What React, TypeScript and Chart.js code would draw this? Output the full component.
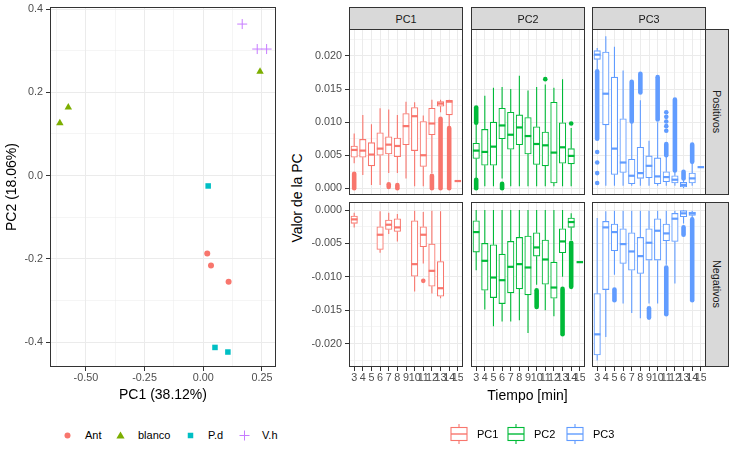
import { useEffect, useRef } from "react";
import { Chart, registerables } from "chart.js";

Chart.register(...registerables);

const FONT = "'Liberation Sans', Arial, sans-serif";
Chart.defaults.font.family = FONT;
Chart.defaults.font.size = 10.8;
Chart.defaults.color = "#4D4D4D";

// ---------- PCA scores (left plot) ----------
const antScores = [[0.017, -0.187], [0.033, -0.216], [0.108, -0.255]];
const blancoScores = [[-0.611, 0.126], [-0.575, 0.164], [0.242, 0.25]];
const pdScores = [[0.021, -0.025], [0.05, -0.413], [0.105, -0.424]];
const vhScores = [[0.166, 0.364], [0.23, 0.304], [0.27, 0.304]];

const pc1Major = [-0.5, -0.25, 0, 0.25];
const pc1Minor = [-0.625, -0.375, -0.125, 0.125];
const pc2Major = [-0.4, -0.2, 0, 0.2, 0.4];
const pc2Minor = [-0.3, -0.1, 0.1, 0.3];

// ---------- loadings per time (right plot) ----------
const times = [3, 4, 5, 6, 7, 8, 9, 10, 11, 12, 13, 14, 15];
const timeLabels = ["3", "4", "5", "6", "7", "8", "9", "10", "11", "12", "13", "14", "15"];

type Box = number[] | null; // [lower whisker, q1, median, q3, upper whisker]
type Outlier = number[]; // [time, from, to]

const pc1Pos: Box[] = [
  [0.0038, 0.0047, 0.0058, 0.0064, 0.0083],
  [0.002, 0.0047, 0.0057, 0.0074, 0.0111],
  [0.0005, 0.0034, 0.0051, 0.0069, 0.0097],
  [0.0005, 0.005, 0.006, 0.0084, 0.0121],
  [0.0023, 0.0052, 0.0066, 0.0078, 0.0119],
  [0.0023, 0.0048, 0.0064, 0.0076, 0.0111],
  [0.0015, 0.0066, 0.0094, 0.0113, 0.0131],
  [0.0003, 0.0057, 0.0109, 0.0122, 0.013],
  [0.0003, 0.0033, 0.005, 0.0101, 0.011],
  [0.0023, 0.0081, 0.0098, 0.0121, 0.0134],
  [0.0115, 0.0124, 0.0128, 0.0131, 0.0134],
  [0.0093, 0.0111, 0.0131, 0.0133, 0.0134],
  [0.0011, 0.0011, 0.0011, 0.0011, 0.0011],
];
const pc1PosOut: Outlier[] = [
  [3, 0.0, 0.0022], [7, 0.0002, 0.0006], [8, 0.0, 0.0005],
  [12, 0.0, 0.0019], [13, 0.0, 0.0105], [14, 0.0, 0.0091],
];
const pc1Neg: Box[] = [
  [-0.0026, -0.002, -0.0014, -0.0009, -0.0004],
  null,
  null,
  [-0.0064, -0.0059, -0.0037, -0.0025, -0.0002],
  [-0.0036, -0.0029, -0.0022, -0.0015, -0.0004],
  [-0.0047, -0.0032, -0.0026, -0.0013, -0.0006],
  null,
  [-0.0122, -0.0099, -0.0081, -0.0016, -0.0001],
  [-0.008, -0.0055, -0.0037, -0.0025, -0.0003],
  [-0.0125, -0.0114, -0.0091, -0.0051, -0.0001],
  [-0.0132, -0.0129, -0.0117, -0.0077, -0.0002],
  null,
  null,
];
const pc1NegOut: Outlier[] = [[11, -0.0106, -0.0106]];

const pc2Pos: Box[] = [
  [0.0015, 0.0045, 0.0057, 0.0068, 0.0097],
  [0.0003, 0.0035, 0.0055, 0.0089, 0.014],
  [0.0003, 0.0035, 0.0063, 0.01, 0.0152],
  [0.0015, 0.0075, 0.0095, 0.0121, 0.0153],
  [0.0003, 0.0059, 0.0081, 0.0115, 0.015],
  [0.0003, 0.0066, 0.0092, 0.0111, 0.017],
  [0.0003, 0.0052, 0.0079, 0.0107, 0.0148],
  [0.0003, 0.0036, 0.0067, 0.0093, 0.0153],
  [0.0003, 0.0034, 0.0065, 0.0085, 0.0157],
  [0.0003, 0.0008, 0.0054, 0.013, 0.0152],
  [0.0003, 0.0038, 0.0062, 0.0099, 0.0165],
  [0.0003, 0.0037, 0.0049, 0.006, 0.0091],
  null,
];
const pc2PosOut: Outlier[] = [
  [3, 0.0099, 0.0122], [3, 0.0, 0.0013], [6, 0.0, 0.0007],
  [11, 0.0165, 0.0165], [14, 0.0098, 0.0098],
];
const pc2Neg: Box[] = [
  [-0.009, -0.0063, -0.0033, -0.0016, 0.0],
  [-0.0149, -0.012, -0.0076, -0.005, 0.0],
  [-0.0174, -0.0131, -0.0101, -0.0052, 0.0],
  [-0.0167, -0.014, -0.0105, -0.0066, 0.0],
  [-0.0167, -0.0124, -0.0085, -0.0047, 0.0],
  [-0.0165, -0.0118, -0.0081, -0.0041, 0.0],
  [-0.0184, -0.0127, -0.0086, -0.0039, 0.0],
  [-0.0112, -0.0069, -0.0056, -0.0034, 0.0],
  [-0.015, -0.0111, -0.0074, -0.0045, 0.0],
  [-0.0159, -0.0132, -0.0116, -0.0078, 0.0],
  [-0.01, -0.0064, -0.0047, -0.0028, 0.0],
  [-0.0045, -0.0026, -0.0018, -0.0012, -0.0005],
  [-0.0078, -0.0078, -0.0078, -0.0078, -0.0078],
];
const pc2NegOut: Outlier[] = [
  [10, -0.0145, -0.012], [13, -0.0186, -0.0118], [14, -0.0115, -0.0049],
];

const pc3Pos: Box[] = [
  [0.018, 0.0195, 0.0202, 0.0208, 0.0212],
  [0.0004, 0.0096, 0.0143, 0.0206, 0.023],
  [0.0004, 0.0021, 0.006, 0.0168, 0.0214],
  [0.0004, 0.0024, 0.0039, 0.0105, 0.0178],
  [0.0004, 0.0007, 0.0019, 0.0044, 0.0099],
  [0.0004, 0.0015, 0.0023, 0.0062, 0.0133],
  [0.0004, 0.0016, 0.0034, 0.0049, 0.0072],
  [0.0004, 0.0007, 0.0018, 0.0046, 0.01],
  [0.0004, 0.001, 0.0017, 0.0025, 0.0048],
  [0.0004, 0.0008, 0.0013, 0.0019, 0.0026],
  [0.0, 0.0002, 0.0005, 0.0009, 0.0013],
  [0.0004, 0.0008, 0.0015, 0.0023, 0.0037],
  [0.0032, 0.0032, 0.0032, 0.0032, 0.0032],
];
const pc3PosOut: Outlier[] = [
  [3, 0.0075, 0.0177], [3, 0.0055, 0.0055], [3, 0.0039, 0.0039], [3, 0.0023, 0.0023], [3, 0.0008, 0.0008],
  [7, 0.0101, 0.0161], [8, 0.0145, 0.0173], [10, 0.0104, 0.0168],
  [11, 0.0115, 0.0115], [11, 0.0108, 0.0108], [11, 0.0101, 0.0101], [11, 0.0094, 0.0094], [11, 0.0087, 0.0087],
  [11, 0.005, 0.0067], [12, 0.0027, 0.0134], [13, 0.0015, 0.0025], [14, 0.004, 0.0066],
];
const pc3Neg: Box[] = [
  [-0.0225, -0.0217, -0.0186, -0.0125, -0.0012],
  [-0.019, -0.0119, -0.0026, -0.0017, -0.0002],
  [-0.0097, -0.0061, -0.0033, -0.0021, -0.0001],
  [-0.014, -0.008, -0.0051, -0.0028, -0.0001],
  [-0.0154, -0.009, -0.0062, -0.0034, -0.0001],
  [-0.0162, -0.0095, -0.0069, -0.0041, -0.0001],
  [-0.014, -0.0075, -0.0049, -0.0028, -0.0001],
  [-0.014, -0.0075, -0.0031, -0.0013, -0.0001],
  [-0.0082, -0.0046, -0.0035, -0.0021, -0.0001],
  [-0.011, -0.0047, -0.0013, -0.0005, -0.0001],
  [-0.002, -0.001, -0.0005, -0.0001, 0.0],
  [-0.0014, -0.0008, -0.0005, -0.0003, -0.0001],
  null,
];
const pc3NegOut: Outlier[] = [
  [5, -0.0135, -0.0119], [9, -0.0161, -0.0147], [11, -0.0156, -0.0086],
  [13, -0.0037, -0.0026], [14, -0.0135, -0.0014],
];

const posMajor = [0, 0.005, 0.01, 0.015, 0.02];
const posMinor = [0.0025, 0.0075, 0.0125, 0.0175, 0.0225];
const negMajor = [-0.02, -0.015, -0.01, -0.005, 0];
const negMinor = [-0.0225, -0.0175, -0.0125, -0.0075, -0.0025];

const pcColors = ["#F8766D", "#00BA38", "#619CFF"];
const pcNames = ["PC1", "PC2", "PC3"];
const rowNames = ["Positivos", "Negativos"];

const GRID = "#EBEBEB";
const DARK = "#333333";

const framePlugin = {
  id: "frame",
  afterDraw(chart: Chart) {
    const { ctx, chartArea: a } = chart;
    ctx.save();
    ctx.strokeStyle = DARK;
    ctx.lineWidth = 1;
    ctx.strokeRect(a.left + 0.5, a.top + 0.5, a.right - a.left - 1, a.bottom - a.top - 1);
    ctx.restore();
  },
};

const noPad = (axis: any) => {
  axis.paddingLeft = 0;
  axis.paddingRight = 0;
  axis.paddingTop = 0;
  axis.paddingBottom = 0;
};

// ---------- left: PCA scatter ----------
const ScoresPlot = () => {
  const chartRef = useRef<HTMLCanvasElement>(null);

  useEffect(() => {
    const ctx = chartRef.current?.getContext("2d");
    if (!ctx) return;
    const pts = (arr: number[][]) => arr.map(([x, y]) => ({ x, y }));
    const chart = new Chart(ctx, {
      type: "scatter",
      data: {
        datasets: [
          { label: "Ant", data: pts(antScores), pointStyle: "circle", pointRadius: 3, pointBackgroundColor: "#F8766D", pointBorderWidth: 0 },
          { label: "blanco", data: pts(blancoScores), pointStyle: "triangle", pointRadius: 4.3, pointBackgroundColor: "#7CAE00", pointBorderWidth: 0 },
          { label: "P.d", data: pts(pdScores), pointStyle: "rect", pointRadius: 3.9, pointBackgroundColor: "#00BFC4", pointBorderWidth: 0 },
          { label: "V.h", data: pts(vhScores), pointStyle: "cross", pointRadius: 5, pointBorderColor: "#C77CFF", pointBorderWidth: 1 },
        ],
      },
      options: {
        animation: false,
        responsive: false,
        events: [],
        layout: { autoPadding: false, padding: { top: 7, right: 6, left: 0, bottom: 0 } },
        plugins: { legend: { display: false }, tooltip: { enabled: false } },
        scales: {
          x: {
            type: "linear",
            min: -0.653,
            max: 0.31,
            afterBuildTicks: (axis: any) => {
              axis.ticks = [...pc1Major, ...pc1Minor].sort((a, b) => a - b).map((value) => ({ value }));
            },
            afterFit: (axis: any) => {
              axis.height = 43;
              noPad(axis);
            },
            border: { display: false },
            grid: {
              color: GRID,
              lineWidth: (c: any) => (pc1Major.includes(c.tick?.value) ? 1 : 0.5),
              tickColor: (c: any) => (pc1Major.includes(c.tick?.value) ? DARK : "rgba(0,0,0,0)"),
              tickLength: 4,
            },
            ticks: {
              padding: 1,
              autoSkip: false,
              maxRotation: 0,
              callback: (v: any) => (pc1Major.includes(v) ? Number(v).toFixed(2) : ""),
            },
            title: { display: true, text: "PC1 (38.12%)", color: "#000000", font: { size: 14 }, padding: { top: 0, bottom: 6.6 } },
          },
          y: {
            type: "linear",
            min: -0.46,
            max: 0.405,
            afterBuildTicks: (axis: any) => {
              axis.ticks = [...pc2Major, ...pc2Minor].sort((a, b) => a - b).map((value) => ({ value }));
            },
            afterFit: (axis: any) => {
              axis.width = 50;
              noPad(axis);
            },
            border: { display: false },
            grid: {
              color: GRID,
              lineWidth: (c: any) => (pc2Major.includes(c.tick?.value) ? 1 : 0.5),
              tickColor: (c: any) => (pc2Major.includes(c.tick?.value) ? DARK : "rgba(0,0,0,0)"),
              tickLength: 4,
            },
            ticks: {
              padding: 3,
              autoSkip: false,
              callback: (v: any) => (pc2Major.includes(v) ? Number(v).toFixed(1) : ""),
            },
            title: { display: true, text: "PC2 (18.06%)", color: "#000000", font: { size: 14 }, padding: { top: 4.1, bottom: 0 } },
          },
        },
      },
      plugins: [framePlugin],
    });
    return () => chart.destroy();
  }, []);

  return (
    <canvas
      ref={chartRef}
      width={282}
      height={410}
      style={{ position: "absolute", left: 0, top: 0, width: 282, height: 410 }}
    />
  );
};

// ---------- right: one facet panel of boxplots ----------
type PanelProps = {
  boxes: Box[];
  outliers: Outlier[];
  color: string;
  yMin: number;
  yMax: number;
  yMajor: number[];
  yMinor: number[];
  showY: boolean;
  showX: boolean;
  left: number;
  top: number;
  height: number;
};

const PANEL_W = 114;
const PAD_TOP = 6;

const FacetPanel = ({ boxes, outliers, color, yMin, yMax, yMajor, yMinor, showY, showX, left, top, height }: PanelProps) => {
  const chartRef = useRef<HTMLCanvasElement>(null);
  const yW = showY ? 40 : 0;
  const xH = showX ? 22 : 0;
  const w = yW + PANEL_W;
  const h = PAD_TOP + height + xH;

  useEffect(() => {
    const ctx = chartRef.current?.getContext("2d");
    if (!ctx) return;
    const present = times.map((t, i) => ({ t, b: boxes[i] })).filter((d) => d.b) as { t: number; b: number[] }[];

    const boxMarks = {
      id: "boxMarks",
      beforeDatasetsDraw(chart: Chart) {
        const { ctx: c, chartArea: a, scales } = chart;
        const x = scales.x;
        const y = scales.y;
        c.save();
        c.beginPath();
        c.rect(a.left, a.top, a.right - a.left, a.bottom - a.top);
        c.clip();
        c.strokeStyle = color;
        // outliers (dense runs drawn as overlapping dots)
        c.lineCap = "round";
        c.lineWidth = 4.6;
        outliers.forEach(([t, from, to]) => {
          const px = x.getPixelForValue(t);
          const y1 = y.getPixelForValue(from);
          const y2 = y.getPixelForValue(to);
          c.beginPath();
          c.moveTo(px, y1);
          c.lineTo(px, y2 === y1 ? y1 + 0.01 : y2);
          c.stroke();
        });
        // whiskers
        c.lineCap = "butt";
        c.lineWidth = 1.1;
        present.forEach(({ t, b }) => {
          const px = x.getPixelForValue(t);
          c.beginPath();
          c.moveTo(px, y.getPixelForValue(b[4]));
          c.lineTo(px, y.getPixelForValue(b[3]));
          c.moveTo(px, y.getPixelForValue(b[1]));
          c.lineTo(px, y.getPixelForValue(b[0]));
          c.stroke();
        });
        c.restore();
      },
      afterDatasetsDraw(chart: Chart) {
        const { ctx: c, scales } = chart;
        const meta = chart.getDatasetMeta(0);
        c.save();
        c.strokeStyle = color;
        c.lineWidth = 2.2;
        present.forEach(({ b }, i) => {
          const el: any = meta.data[i];
          const py = scales.y.getPixelForValue(b[2]);
          c.beginPath();
          c.moveTo(el.x - el.width / 2, py);
          c.lineTo(el.x + el.width / 2, py);
          c.stroke();
        });
        c.restore();
      },
    };

    const chart = new Chart(ctx, {
      type: "bar",
      data: {
        datasets: [
          {
            data: present.map(({ t, b }) => ({ x: t, y: [b[1], b[3]] })) as any,
            backgroundColor: "#FFFFFF",
            borderColor: color,
            borderWidth: 1.1,
            borderSkipped: false,
            barThickness: 6.5,
          },
        ],
      },
      options: {
        animation: false,
        responsive: false,
        events: [],
        layout: { autoPadding: false, padding: { top: PAD_TOP, left: 0, right: 0, bottom: 0 } },
        plugins: { legend: { display: false }, tooltip: { enabled: false } },
        scales: {
          x: {
            type: "linear",
            min: 2.4,
            max: 15.6,
            offset: false,
            bounds: "data",
            afterBuildTicks: (axis: any) => {
              axis.ticks = times.map((value) => ({ value }));
            },
            afterFit: (axis: any) => {
              axis.height = xH;
              noPad(axis);
            },
            border: { display: false },
            grid: { offset: false, color: GRID, lineWidth: 1, tickColor: DARK, tickLength: 4, drawTicks: showX },
            ticks: {
              display: showX,
              padding: 1,
              autoSkip: false,
              maxRotation: 0,
              minRotation: 0,
              callback: (v: any) => timeLabels[times.indexOf(Number(v))] ?? "",
            },
          },
          y: {
            type: "linear",
            min: yMin,
            max: yMax,
            bounds: "data",
            afterBuildTicks: (axis: any) => {
              axis.ticks = [...yMajor, ...yMinor].sort((a, b) => a - b).map((value) => ({ value }));
            },
            afterFit: (axis: any) => {
              axis.width = yW;
              noPad(axis);
            },
            border: { display: false },
            grid: {
              color: GRID,
              lineWidth: (c: any) => (yMajor.includes(c.tick?.value) ? 1 : 0.5),
              tickColor: (c: any) => (yMajor.includes(c.tick?.value) ? DARK : "rgba(0,0,0,0)"),
              tickLength: 4,
              drawTicks: showY,
            },
            ticks: {
              display: showY,
              padding: 3,
              autoSkip: false,
              callback: (v: any) => (yMajor.includes(v) ? Number(v).toFixed(3) : ""),
            },
          },
        },
      },
      plugins: [boxMarks, framePlugin],
    });
    return () => chart.destroy();
  }, []);

  return (
    <canvas
      ref={chartRef}
      width={w}
      height={h}
      style={{ position: "absolute", left: left - yW, top: top - PAD_TOP, width: w, height: h }}
    />
  );
};

const ScatterIcon = ({ shape, color }: { shape: string; color: string }) => (
  <svg width={17} height={17} style={{ display: "block" }}>
    {shape === "circle" && <circle cx={8.5} cy={8.5} r={3} fill={color} />}
    {shape === "triangle" && <polygon points="8.5,4.5 12.6,11.6 4.4,11.6" fill={color} />}
    {shape === "square" && <rect x={5.75} y={5.75} width={5.5} height={5.5} fill={color} />}
    {shape === "cross" && <path d="M3.5 8.5H13.5M8.5 3.5V13.5" stroke={color} strokeWidth={1} fill="none" />}
  </svg>
);

const BoxIcon = ({ color }: { color: string }) => (
  <svg width={18} height={20} style={{ display: "block" }}>
    <line x1={9} y1={0} x2={9} y2={20} stroke={color} strokeWidth={1.1} />
    <rect x={1} y={3.5} width={16} height={13} fill="#FFFFFF" stroke={color} strokeWidth={1.1} />
    <line x1={1} y1={10} x2={17} y2={10} stroke={color} strokeWidth={1.4} />
  </svg>
);

const colLefts = [349, 471, 592];
const rowTops = [29, 202];
const rowHeights = [166, 165];

const App = () => {
  const panels = [
    { row: 0, col: 0, boxes: pc1Pos, outliers: pc1PosOut },
    { row: 0, col: 1, boxes: pc2Pos, outliers: pc2PosOut },
    { row: 0, col: 2, boxes: pc3Pos, outliers: pc3PosOut },
    { row: 1, col: 0, boxes: pc1Neg, outliers: pc1NegOut },
    { row: 1, col: 1, boxes: pc2Neg, outliers: pc2NegOut },
    { row: 1, col: 2, boxes: pc3Neg, outliers: pc3NegOut },
  ];

  const scatterLegend = [
    { label: "Ant", shape: "circle", color: "#F8766D", cx: 67, tx: 85 },
    { label: "blanco", shape: "triangle", color: "#7CAE00", cx: 120, tx: 138 },
    { label: "P.d", shape: "square", color: "#00BFC4", cx: 190, tx: 208 },
    { label: "V.h", shape: "cross", color: "#C77CFF", cx: 244, tx: 262 },
  ];
  const boxLegendX = [{ gx: 449.5, tx: 477 }, { gx: 506.5, tx: 534 }, { gx: 566, tx: 593 }];

  const strip = {
    position: "absolute" as const,
    background: "#D9D9D9",
    border: `1px solid ${DARK}`,
    boxSizing: "border-box" as const,
    display: "flex",
    alignItems: "center",
    justifyContent: "center",
    fontSize: 10.8,
    color: "#1A1A1A",
  };

  return (
    <div
      style={{
        position: "absolute",
        left: 0,
        top: 0,
        width: 736,
        height: 460,
        background: "#FFFFFF",
        fontFamily: FONT,
        overflow: "hidden",
      }}
    >
      <ScoresPlot />

      {scatterLegend.map((it) => (
        <div key={it.label}>
          <div style={{ position: "absolute", left: it.cx - 8.5, top: 426.5 }}>
            <ScatterIcon shape={it.shape} color={it.color} />
          </div>
          <div style={{ position: "absolute", left: it.tx, top: 426.5, lineHeight: "17px", fontSize: 11, color: "#000" }}>
            {it.label}
          </div>
        </div>
      ))}

      {panels.map((p) => (
        <FacetPanel
          key={`${p.row}-${p.col}`}
          boxes={p.boxes}
          outliers={p.outliers}
          color={pcColors[p.col]}
          yMin={p.row === 0 ? -0.00101 : -0.02349}
          yMax={p.row === 0 ? 0.02408 : 0.0012}
          yMajor={p.row === 0 ? posMajor : negMajor}
          yMinor={p.row === 0 ? posMinor : negMinor}
          showY={p.col === 0}
          showX={p.row === 1}
          left={colLefts[p.col]}
          top={rowTops[p.row]}
          height={rowHeights[p.row]}
        />
      ))}

      {pcNames.map((name, i) => (
        <div key={name} style={{ ...strip, left: colLefts[i], top: 7, width: PANEL_W, height: 23 }}>
          {name}
        </div>
      ))}
      {rowNames.map((name, i) => (
        <div key={name} style={{ ...strip, left: 705, top: rowTops[i], width: 24, height: rowHeights[i] }}>
          <span style={{ writingMode: "vertical-rl" }}>{name}</span>
        </div>
      ))}

      <div
        style={{
          position: "absolute",
          left: 297,
          top: 198,
          transform: "translate(-50%, -50%) rotate(-90deg)",
          fontSize: 14,
          whiteSpace: "nowrap",
          color: "#000",
        }}
      >
        Valor de la PC
      </div>
      <div
        style={{
          position: "absolute",
          left: 527.5,
          top: 394.5,
          transform: "translate(-50%, -50%)",
          fontSize: 14,
          whiteSpace: "nowrap",
          color: "#000",
        }}
      >
        Tiempo [min]
      </div>

      {pcNames.map((name, i) => (
        <div key={`lg-${name}`}>
          <div style={{ position: "absolute", left: boxLegendX[i].gx, top: 424 }}>
            <BoxIcon color={pcColors[i]} />
          </div>
          <div style={{ position: "absolute", left: boxLegendX[i].tx, top: 425.5, lineHeight: "17px", fontSize: 11, color: "#000" }}>
            {name}
          </div>
        </div>
      ))}
    </div>
  );
};

export default App;
